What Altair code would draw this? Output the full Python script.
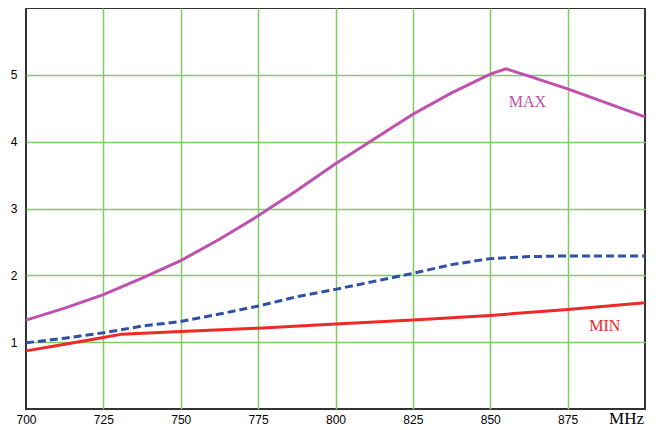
import altair as alt
import pandas as pd

max_mhz = [700, 712.5, 725, 737.5, 750, 762.5, 775, 787.5, 800, 812.5, 825, 837.5, 850, 855, 862.5, 875, 887.5, 900]
max_val = [1.33, 1.51, 1.71, 1.96, 2.22, 2.54, 2.89, 3.27, 3.67, 4.04, 4.41, 4.73, 5.01, 5.09, 4.98, 4.79, 4.58, 4.37]

mid_mhz = [700, 712.5, 725, 737.5, 750, 762.5, 775, 787.5, 800, 812.5, 825, 837.5, 850, 862.5, 875, 900]
mid_val = [0.99, 1.06, 1.14, 1.24, 1.31, 1.42, 1.54, 1.68, 1.79, 1.91, 2.03, 2.16, 2.25, 2.28, 2.29, 2.29]

min_mhz = [700, 712.5, 725, 731, 750, 775, 800, 825, 850, 875, 900]
min_val = [0.87, 0.97, 1.07, 1.12, 1.16, 1.21, 1.27, 1.33, 1.40, 1.49, 1.59]

ann_text = ["MAX", "MIN"]
ann_mhz = [862, 887]
ann_val = [4.6, 1.24]
ann_color = ["#c050b0", "#f02828"]

x_ticks = [700, 725, 750, 775, 800, 825, 850, 875, 900]
y_ticks = [0, 1, 2, 3, 4, 5, 6]

df_max = pd.DataFrame({"f": max_mhz, "v": max_val})
df_mid = pd.DataFrame({"f": mid_mhz, "v": mid_val})
df_min = pd.DataFrame({"f": min_mhz, "v": min_val})
df_ann = pd.DataFrame({"t": ann_text, "f": ann_mhz, "v": ann_val, "c": ann_color})
df_unit = pd.DataFrame({"t": ["MHz"], "f": [900]})

xs = alt.Scale(domain=[700, 900], nice=False, zero=False)
ys = alt.Scale(domain=[0, 6], nice=False, zero=False)

x_axis = alt.Axis(values=x_ticks, grid=True, gridColor="#80cc60", gridWidth=1.5,
                  gridOpacity={"condition": {"test": "datum.value <= 700 || datum.value >= 900", "value": 0}, "value": 1},
                  ticks=False, domain=False, labelFont="Liberation Sans", labelFontSize=12,
                  labelColor="#000", labelPadding=5, title=None, format="d", labelFlush=False,
                  labelExpr="datum.value >= 900 ? '' : datum.label")
y_axis = alt.Axis(values=y_ticks, grid=True, gridColor="#80cc60", gridWidth=1.5,
                  gridOpacity={"condition": {"test": "datum.value <= 0 || datum.value >= 6", "value": 0}, "value": 1},
                  ticks=False, domain=False, labelFont="Liberation Sans", labelFontSize=12,
                  labelColor="#000", labelPadding=9, title=None, format="d", labelFlush=False,
                  labelExpr="(datum.value == 0 || datum.value == 6) ? '' : datum.label")

base_x = alt.X("f:Q", scale=xs, axis=x_axis)
base_y = alt.Y("v:Q", scale=ys, axis=y_axis)

l_max = alt.Chart(df_max).mark_line(color="#c050b0", strokeWidth=3).encode(x=base_x, y=base_y)
l_mid = alt.Chart(df_mid).mark_line(color="#3050a8", strokeWidth=3, strokeDash=[8, 4]).encode(
    x=alt.X("f:Q", scale=xs), y=alt.Y("v:Q", scale=ys))
l_min = alt.Chart(df_min).mark_line(color="#f02828", strokeWidth=3).encode(
    x=alt.X("f:Q", scale=xs), y=alt.Y("v:Q", scale=ys))

ann = alt.Chart(df_ann).mark_text(font="Liberation Serif", fontSize=16, align="center", baseline="middle").encode(
    x=alt.X("f:Q", scale=xs), y=alt.Y("v:Q", scale=ys), text="t:N",
    color=alt.Color("c:N", scale=None))

unit = alt.Chart(df_unit).mark_text(font="Liberation Serif", fontSize=17, align="right", baseline="middle",
                                    dx=-1, clip=False, color="#000").encode(
    x=alt.X("f:Q", scale=xs), y=alt.value(411), text="t:N")

chart = alt.layer(l_max, l_mid, l_min, ann, unit).properties(
    width=619, height=401,
    padding={"left": 18, "top": 0, "right": 8, "bottom": 21},
    autosize=alt.AutoSizeParams(type="none"),
    background="#ffffff",
).configure_view(stroke="#333333", strokeWidth=2)

chart.save("out.html", embed_options={"renderer": "svg", "actions": False})
